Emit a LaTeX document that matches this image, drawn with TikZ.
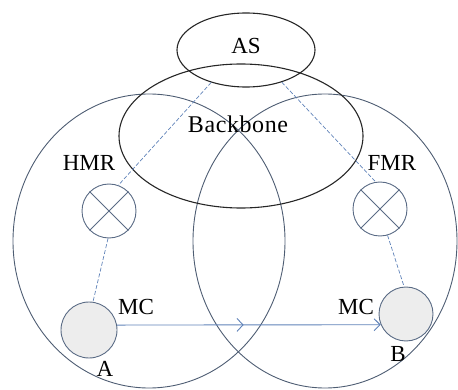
\documentclass[tikz,border=0pt]{standalone}
\usepackage{fontspec}
\setmainfont{Liberation Serif}
\usetikzlibrary{shapes.geometric,arrows.meta,decorations.markings}
\definecolor{ringc}{HTML}{4E5D73}
\definecolor{linkc}{HTML}{5F82B8}
\definecolor{nodec}{HTML}{5A6B85}
\definecolor{fillc}{HTML}{EDEDED}
\tikzset{
  region/.style={ellipse,draw=ringc,line width=0.9pt,inner sep=0pt},
  core/.style={ellipse,draw=black!85,line width=1.1pt,inner sep=0pt},
  router/.style={circle,draw=nodec,line width=0.9pt,inner sep=0pt,minimum size=54pt},
  host/.style={circle,draw=nodec,fill=fillc,line width=0.9pt,inner sep=0pt},
  link/.style={draw=linkc,dashed,dash pattern=on 4pt off 2pt,line width=0.7pt},
  lbl/.style={font=\fontsize{23}{26}\selectfont,inner sep=0pt},
  move/.style={draw=linkc,line width=0.9pt,-{Straight Barb[length=6pt,width=12pt]},
    postaction={decorate},
    decoration={markings,mark=at position 0.48 with {\arrow{Straight Barb[length=6pt,width=13pt]}}}}
}
\begin{document}
\begin{tikzpicture}[x=1pt,y=-1pt]
\useasboundingbox (0,0) rectangle (458,390);
% home and foreign networks
\node[region,minimum width=272pt,minimum height=294pt] (home) at (149,241) {};
\node[region,minimum width=264pt,minimum height=294pt] (foreign) at (325,241) {};
% backbone and authentication server
\node[core,minimum width=244pt,minimum height=144pt] (backbone) at (241,136) {};
\node[core,minimum width=138pt,minimum height=74pt] (as) at (246,50) {};
% mobility routers
\node[router] (hmr) at (109,211) {};
\node[router] (fmr) at (380,209) {};
\draw[nodec,line width=0.9pt] (hmr.north west) -- (hmr.south east) (hmr.north east) -- (hmr.south west);
\draw[nodec,line width=0.9pt] (fmr.north west) -- (fmr.south east) (fmr.north east) -- (fmr.south west);
% mobile client positions
\node[host,minimum size=56pt] (A) at (89,330) {};
\node[host,minimum size=54pt] (B) at (406,314) {};
% signalling links
\draw[link] (as.223) -- (hmr.70);
\draw[link] (as.318) -- (fmr.99);
\draw[link] (hmr.268) -- (A.82);
\draw[link] (fmr.286) -- (B.94);
% movement of the client
\draw[move] (A.10) -- (B.203);
% labels
\node[lbl] (tas) at (246,46) {AS};
\node[lbl,font=\fontsize{24}{26}\selectfont] (tbb) at (238,124) {B\kern0.6pt a\kern0.6pt c\kern0.6pt k\kern0.6pt b\kern0.6pt o\kern0.6pt n\kern0.6pt e};
\node[lbl] (thmr) at (89,163) {HMR};
\node[lbl] (tfmr) at (392,163) {FMR};
\node[lbl] (tmca) at (136,307) {MC};
\node[lbl] (tmcb) at (356,307) {MC};
\node[lbl] (ta) at (105,369) {A};
\node[lbl] (tb) at (398,354) {B};
\end{tikzpicture}
\end{document}
